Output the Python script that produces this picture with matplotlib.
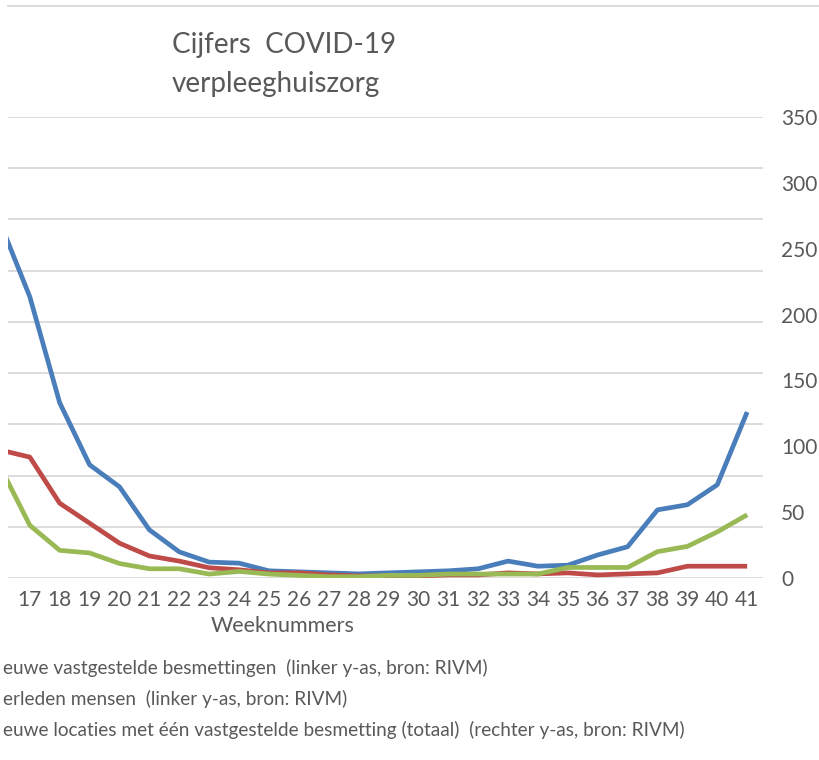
import numpy as np
import matplotlib
matplotlib.use("Agg")
import matplotlib.pyplot as plt
from matplotlib.lines import Line2D

plt.rcParams['font.family'] = ['Lato', 'DejaVu Sans']

# weeknummers 2020
weeks = list(range(16, 42))
week_labels = [str(w) for w in range(17, 42)]

# nieuwe vastgestelde besmettingen (linker y-as)
besmettingen = [695, 549, 342, 221, 178, 94, 51, 31, 29, 14, 12, 10, 8,
                10, 12, 14, 18, 33, 23, 25, 45, 61, 133, 143, 182, 324]
# overleden mensen (linker y-as)
overleden = [250, 236, 146, 107, 68, 43, 33, 20, 16, 10, 10, 6, 4,
             4, 4, 6, 6, 10, 8, 10, 6, 8, 10, 23, 23, 23]
# nieuwe locaties met een vastgestelde besmetting (rechter y-as)
locaties = [85, 40, 21, 19, 11, 7, 7, 3, 5, 3, 2, 1, 1,
            2, 2, 3, 3, 3, 3, 8, 8, 8, 20, 24, 35, 48]

c_blauw = '#4a7ebb'
c_rood = '#be4b48'
c_groen = '#98b954'
c_tekst = '#595959'

W, H = 819, 760
fig = plt.figure(figsize=(W / 100, H / 100), dpi=100)
fig.patch.set_facecolor('white')

# assen positie in pixels
x0, x1, y0, y1 = 8, 763, 117, 578
ax = fig.add_axes([x0 / W, 1 - y1 / H, (x1 - x0) / W, (y1 - y0) / H])
ax2 = ax.twinx()

ax.plot(weeks, besmettingen, color=c_blauw, lw=3.4, solid_capstyle='butt')
ax.plot(weeks, overleden, color=c_rood, lw=3.4, solid_capstyle='butt')
ax2.plot(weeks, locaties, color=c_groen, lw=3.4, solid_capstyle='butt')

ax.set_xlim(16.27, 41.53)
ax.set_ylim(0, 900)
ax.set_yticks(np.arange(0, 901, 100))
ax.set_yticklabels([])
ax.grid(axis='y', color='#d9d9d9', lw=1.3)
ax.set_axisbelow(True)
ax.set_xticks(range(17, 42))
ax.set_xticklabels(week_labels)
ax.tick_params(axis='x', length=0, pad=9, labelsize=15, labelcolor=c_tekst)
ax.tick_params(axis='y', length=0)

ax2.set_ylim(0, 350)
ax2.set_yticks(np.arange(0, 351, 50))
ax2.tick_params(axis='y', length=0, pad=13, labelsize=15, labelcolor=c_tekst)

for a in (ax, ax2):
    for s in a.spines.values():
        s.set_visible(False)
    a.patch.set_visible(False)

# rand bovenaan
fig.add_artist(Line2D([8 / W, 1], [1 - 6 / H, 1 - 6 / H], color='#d9d9d9', lw=1.3))

# titel
fig.text(172 / W, 1 - 45 / H, 'Cijfers  COVID-19', fontsize=20, color=c_tekst, va='center', ha='left')
fig.text(172 / W, 1 - 84 / H, 'verpleeghuiszorg', fontsize=20, color=c_tekst, va='center', ha='left')

fig.text(283 / W, 1 - 626 / H, 'Weeknummers', fontsize=15.5, color=c_tekst, ha='center', va='center')

legenda = ['euwe vastgestelde besmettingen  (linker y-as, bron: RIVM)',
           'erleden mensen  (linker y-as, bron: RIVM)',
           'euwe locaties met één vastgestelde besmetting (totaal)  (rechter y-as, bron: RIVM)']
for i, t in enumerate(legenda):
    fig.text(3 / W, 1 - (668 + 31 * i) / H, t, fontsize=13.7, color=c_tekst, ha='left', va='center')

fig.savefig('out.png', dpi=100, facecolor='white')
